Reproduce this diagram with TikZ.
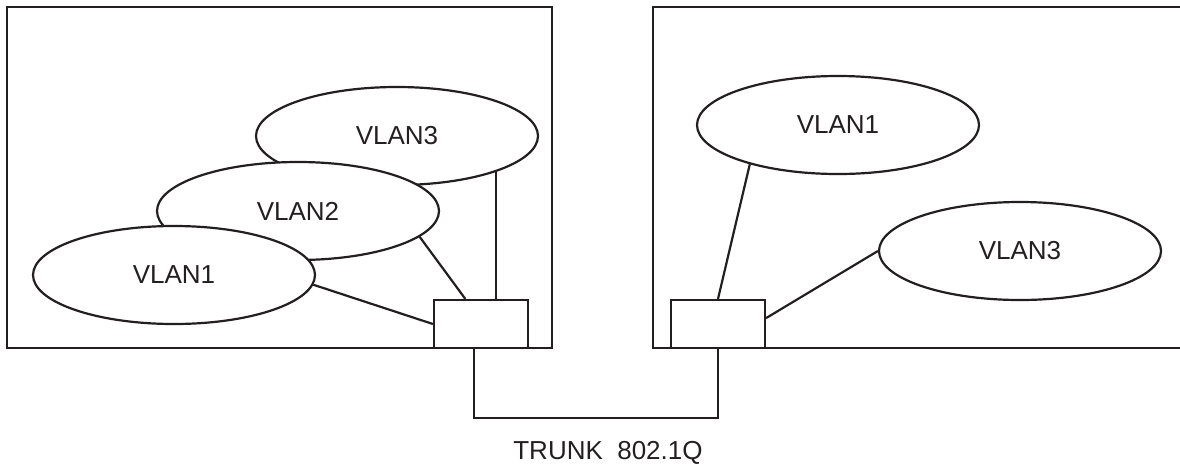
\documentclass[tikz,border=0pt]{standalone}
\usepackage{fontspec}
\setmainfont{Liberation Sans}
\usetikzlibrary{shapes.geometric}
\begin{document}
\begin{tikzpicture}[x=1pt, y=-1pt, line width=2.2pt]

    % Colours and styles
    \definecolor{ink}{RGB}{35,31,32}
    \tikzset{
        vlan/.style={draw=ink, ellipse, fill=white, minimum width=282pt, minimum height=98pt, inner sep=0pt, text=ink, font=\fontsize{26}{30}\selectfont},
        switchbox/.style={draw=ink, fill=white, minimum width=94pt, minimum height=48pt, inner sep=0pt},
        link/.style={draw=ink}
    }

    \useasboundingbox (0,0) rectangle (1180,472);

    % Sites
    \draw[link] (7,7) rectangle (552,348);
    \draw[link] (1192,7) -| (653,348) -- (1192,348);

    % Left site: VLANs, back to front
    \node[vlan] (lthree) at (397,136) {VLAN3};
    \node[vlan] (ltwo) at (298,211) {VLAN2};
    \node[vlan] (lone) at (174,275) {VLAN1};
    \node[switchbox] (lsw) at (481,324) {};

    % Right site
    \node[vlan] (rone) at (838,125) {VLAN1};
    \node[vlan] (rthree) at (1020,251) {VLAN3};
    \node[switchbox] (rsw) at (718,324) {};

    % Links to the switches
    \draw[link] (lthree.-20) -- (lthree.-20 |- lsw.north);
    \draw[link] (ltwo.-12) -- (lsw.122);
    \draw[link] (lone.-4) -- (lsw.west);
    \draw[link] (rone.204) -- (rsw.north);
    \draw[link] (rthree.west) -- (rsw.7);

    % Trunk
    \draw[link] (lsw.-106) -- ++(0,69) -| (rsw.south);
    \node[text=ink, font=\fontsize{26}{30}\selectfont] (trunk) at (608,453) {TRUNK\ \ 802.1Q};
\end{tikzpicture}
\end{document}
